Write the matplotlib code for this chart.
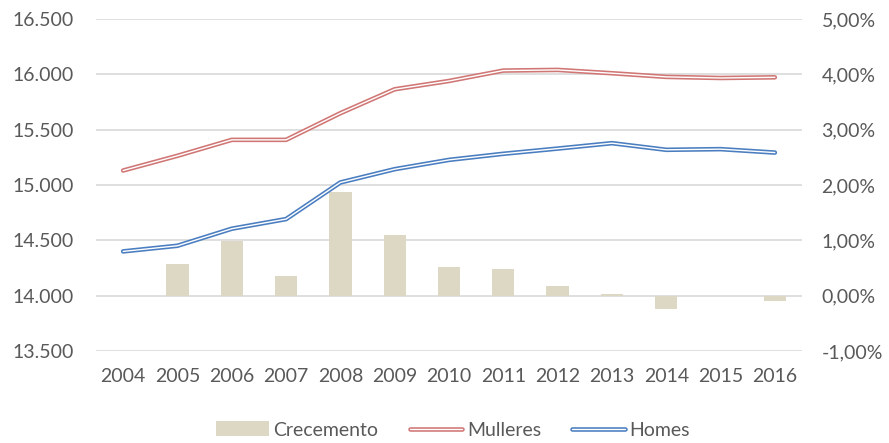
import matplotlib
matplotlib.use("Agg")
import matplotlib.pyplot as plt
import matplotlib.patheffects as pe
from matplotlib.ticker import FuncFormatter
import numpy as np

years = ["2004", "2005", "2006", "2007", "2008", "2009", "2010",
         "2011", "2012", "2013", "2014", "2015", "2016"]
mulleres = [15131, 15264, 15408, 15408, 15649, 15865, 15940,
            16034, 16040, 16010, 15977, 15967, 15973]
homes = [14400, 14451, 14605, 14692, 15023, 15143, 15227,
         15282, 15329, 15378, 15318, 15324, 15293]
crecemento = [0.0, 0.57, 0.99, 0.35, 1.87, 1.10, 0.51,
              0.49, 0.175, 0.03, -0.25, -0.01, -0.09]

left_ticks = [13500, 14000, 14500, 15000, 15500, 16000, 16500]
right_ticks = [-1, 0, 1, 2, 3, 4, 5]

plt.rcParams['font.family'] = ['Lato', 'DejaVu Sans']
txt = '#595959'
red = '#D07775'
blue = '#4A7EC0'
tan = '#DDD8C3'
grid = '#D9D9D9'

fig = plt.figure(figsize=(8.89, 4.43), dpi=100)
W, H = 889, 443
ax2 = fig.add_axes([96 / W, 1 - 351 / H, (802 - 96) / W, (351 - 19) / H])
ax = ax2.twinx()
ax.yaxis.set_label_position('left')
ax.yaxis.tick_left()
ax2.yaxis.tick_right()
ax2.yaxis.set_label_position('right')

x = np.arange(len(years))

bars = ax2.bar(x, crecemento, width=0.41, color=tan, zorder=2, label='Crecemento')
ax2.set_ylim(-1, 5)
ax2.set_yticks(right_ticks)
ax2.yaxis.set_major_formatter(FuncFormatter(lambda v, p: f"{v:.2f}%".replace('.', ',')))
for yv in right_ticks:
    ax2.axhline(yv, color=grid, lw=1.2, zorder=1)

def dbl(c):
    return [pe.Stroke(linewidth=3.3, foreground=c), pe.Normal()]

l1, = ax.plot(x, mulleres, color='white', lw=1.0, solid_capstyle='round',
              path_effects=dbl(red), label='Mulleres', zorder=3)
l2, = ax.plot(x, homes, color='white', lw=1.0, solid_capstyle='round',
              path_effects=dbl(blue), label='Homes', zorder=3)
ax.set_ylim(13500, 16500)
ax.set_yticks(left_ticks)
ax.yaxis.set_major_formatter(FuncFormatter(lambda v, p: f"{int(v):,}".replace(',', '.')))

ax.set_zorder(ax2.get_zorder() + 1)
ax.patch.set_visible(False)

for a in (ax, ax2):
    for s in a.spines.values():
        s.set_visible(False)
    a.tick_params(length=0, labelsize=14, colors=txt)
ax2.set_xlim(-0.5, len(years) - 0.5)
ax.tick_params(axis='y', pad=16)
ax2.tick_params(axis='y', pad=14)
ax2.set_xticks(x)
ax2.set_xticklabels(years)
ax2.tick_params(axis='x', pad=12, labelbottom=True)
ax.tick_params(axis='x', labelbottom=False, labeltop=False)

fig.legend(handles=[bars, l1, l2], labels=['Crecemento', 'Mulleres', 'Homes'],
           loc='center', bbox_to_anchor=(453 / W, 1 - 430 / H), ncol=3,
           frameon=False, fontsize=14, labelcolor=txt,
           handlelength=2.7, handletextpad=0.25, columnspacing=1.6,
           handleheight=0.8)

fig.savefig('out.png', dpi=100)
